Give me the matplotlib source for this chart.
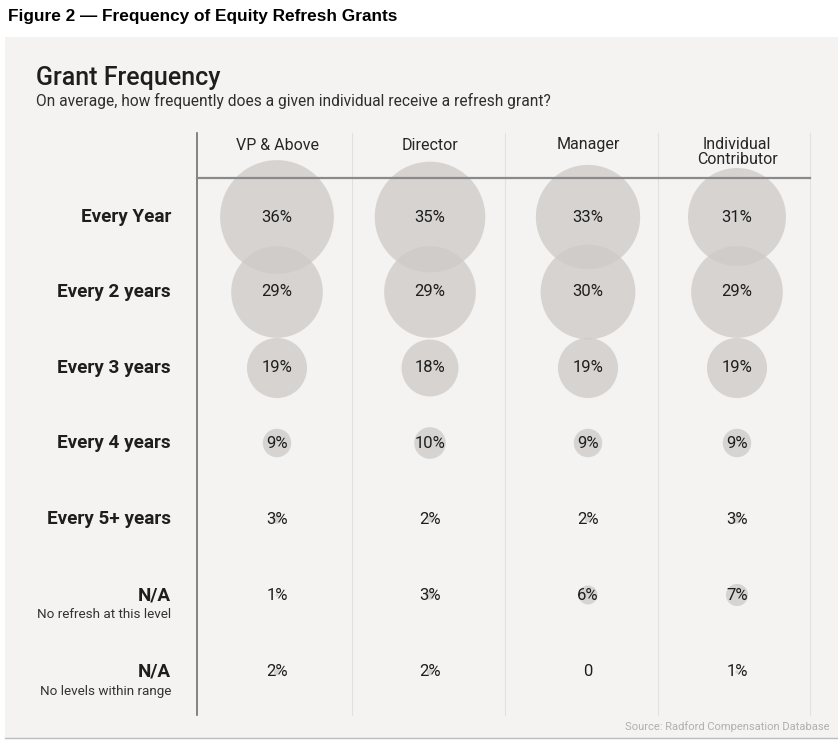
import numpy as np
import matplotlib.pyplot as plt
from matplotlib.patches import Circle, Rectangle

# data
levels = ['VP & Above', 'Director', 'Manager', 'Individual\nContributor']
frequencies = ['Every Year', 'Every 2 years', 'Every 3 years', 'Every 4 years',
               'Every 5+ years', 'N/A', 'N/A']
notes = ['', '', '', '', '', 'No refresh at this level', 'No levels within range']
vp_above = [36, 29, 19, 9, 3, 1, 2]
director = [35, 29, 18, 10, 2, 3, 2]
manager = [33, 30, 19, 9, 2, 6, 0]
individual = [31, 29, 19, 9, 3, 7, 1]
series = [vp_above, director, manager, individual]

# layout (pixel coordinates)
W, H = 838, 740
col_x = [277, 430, 588, 737]
col_sep = [352, 505, 658, 810]
row_y = [217, 292, 368, 443, 519, 595, 672]
px_per_pct = 1.58

bg = '#f4f3f1'
bubble = '#cfcbc9'
txt = '#1e1e1e'
plt.rcParams['font.family'] = ['Roboto', 'DejaVu Sans']

fig = plt.figure(figsize=(W / 100, H / 100), dpi=100)
ax = fig.add_axes([0, 0, 1, 1])
ax.set_xlim(0, W)
ax.set_ylim(H, 0)
ax.set_aspect('equal')
ax.axis('off')

# panel
ax.add_patch(Rectangle((5, 37), W - 5, 701, facecolor=bg, edgecolor='none', zorder=0))
ax.plot([5, W], [738, 738], color='#bdbdbd', lw=1, zorder=1)

fig.text(8 / W, 1 - 17 / H, 'Figure 2 \u2014 Frequency of Equity Refresh Grants',
         family='Liberation Sans', weight='bold', fontsize=12.4, va='center', color='black')
ax.text(36, 78, 'Grant Frequency', fontsize=18, weight='medium', va='center', color=txt)
ax.text(36, 101, 'On average, how frequently does a given individual receive a refresh grant?',
        fontsize=11.2, weight='normal', va='center', color='#2e2e2e')

# grid lines
for x in col_sep:
    ax.plot([x, x], [133, 715], color='#e3e1df', lw=0.8, zorder=1)
ax.plot([197, 197], [133, 715], color='#6e6e6e', lw=1.2, zorder=3)
ax.plot([197, 810], [178, 178], color='#8a8a8a', lw=1.6, zorder=3)

for x, name in zip(col_x, levels):
    ax.text(x, 145 if '\n' not in name else 152, name, ha='center', va='center',
            fontsize=11.5, weight='normal', color='#262626', linespacing=0.95)

for y, name, note in zip(row_y, frequencies, notes):
    ax.text(171, y, name, ha='right', va='center', fontsize=13.6, weight='bold', color=txt)
    if note:
        ax.text(171, y + 19, note, ha='right', va='center', fontsize=9.7,
                weight='normal', color='#333333')

for x, vals in zip(col_x, series):
    for y, v in zip(row_y, vals):
        if v > 0:
            ax.add_patch(Circle((x, y), v * px_per_pct, facecolor=bubble,
                                edgecolor='none', alpha=0.8, zorder=2))
        ax.text(x, y, f'{v}%' if v else '0', ha='center', va='center',
                fontsize=12, weight='normal', color=txt, zorder=4)

ax.text(829, 727, 'Source: Radford Compensation Database', ha='right', va='center',
        fontsize=8, weight='normal', color='#b0b0b0')

fig.savefig('out.png', dpi=100)
